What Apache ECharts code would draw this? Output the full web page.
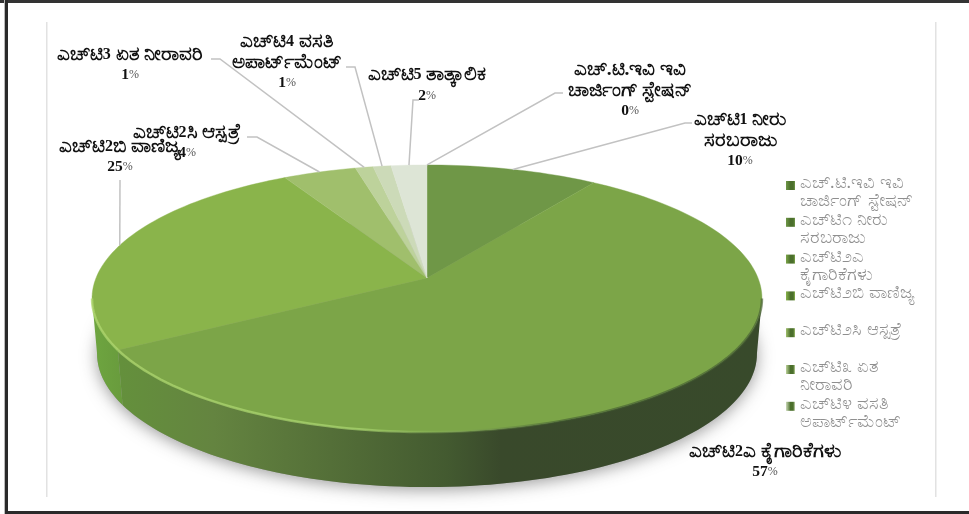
<!DOCTYPE html><html><head><meta charset="utf-8"></head><body style="margin:0;background:#fff">
<div id="m" style="width:969px;height:514px"></div>
<script src="https://cdn.jsdelivr.net/npm/echarts@6/dist/echarts.min.js"></script>
<script>
// ---- data ----
const labelNames = ['ಎಚ್.ಟಿ.ಇವಿ ಇವಿ\nಚಾರ್ಜಿಂಗ್ ಸ್ಟೇಷನ್','ಎಚ್‌ಟಿ1 ನೀರು\nಸರಬರಾಜು','ಎಚ್‌ಟಿ2ಎ ಕೈಗಾರಿಕೆಗಳು','ಎಚ್‌ಟಿ2ಬಿ ವಾಣಿಜ್ಯ','ಎಚ್‌ಟಿ2ಸಿ ಆಸ್ಪತ್ರೆ','ಎಚ್‌ಟಿ3 ಏತ ನೀರಾವರಿ','ಎಚ್‌ಟಿ4 ವಸತಿ\nಅಪಾರ್ಟ್‌ಮೆಂಟ್','ಎಚ್‌ಟಿ5 ತಾತ್ಕಾಲಿಕ'];
const legendNames = ['ಎಚ್.ಟಿ.ಇವಿ ಇವಿ\nಚಾರ್ಜಿಂಗ್ ಸ್ಟೇಷನ್','ಎಚ್‌ಟಿ೧ ನೀರು\nಸರಬರಾಜು','ಎಚ್‌ಟಿ೨ಎ\nಕೈಗಾರಿಕೆಗಳು','ಎಚ್‌ಟಿ೨ಬಿ ವಾಣಿಜ್ಯ','ಎಚ್‌ಟಿ೨ಸಿ ಆಸ್ಪತ್ರೆ','ಎಚ್‌ಟಿ೩ ಏತ\nನೀರಾವರಿ','ಎಚ್‌ಟಿ೪ ವಸತಿ\nಅಪಾರ್ಟ್‌ಮೆಂಟ್'];
const shares = [0, 9.6, 56.9, 25.4, 4.1, 1, 1, 2];

// ---- styles and layout ----
const topColors = ['#6f9647','#6f9747','#7ca548','#8ab44b','#a0bf6c','#bdd29b','#ccdab8','#dde5d6'];
const labelCenters = [[630,90.5],[740,140.5],[765,462],[120,157],[187,143],[130,65],[287,62.5],[427,85.5]];
const leaderBends = [[[555,93],[563,93]],[[685,123],[692,123]],null,[[120,180]],[[257,137],[247,137]],[[220,59],[211,59]],[[355,67],[346,67]],[[413,100],[419,100]]];
const CX=427, AY=278, K=0.1536, BY=130.4, CXS=331, DEPTH=55, BOTTOM_SCALE=0.985;
const SERIF='"Liberation Serif"';

function project(deg, down){
  const t=deg*Math.PI/180, u=Math.sin(t), v=Math.cos(t), w=1+K*v;
  const x=CXS*u/w, y=BY*v/w;
  return down ? [CX+x*BOTTOM_SCALE, AY-y+DEPTH] : [CX+x, AY-y];
}
function arc(a,b,down){
  const n=Math.max(2,Math.ceil(Math.abs(b-a)/1.5)), pts=[];
  for(let i=0;i<=n;i++) pts.push(project(a+(b-a)*i/n,down));
  return pts;
}
function hGrad(stops){return {type:'linear',x:93,y:0,x2:762,y2:0,global:true,colorStops:stops};}
const wallA=hGrad([[0,'#6ca03f'],[.04,'#64903c'],[.18,'#648440'],[.355,'#546f38'],[.53,'#435a30'],[.61,'#39492b'],[1,'#384a2b']].map(s=>({offset:s[0],color:s[1]})));
const wallB=hGrad([[0,'#6ea540'],[.04,'#699c3d'],[1,'#699c3d']].map(s=>({offset:s[0],color:s[1]})));
const rim=hGrad([[0,'rgba(175,215,110,.75)'],[.4,'rgba(175,220,115,.65)'],[.55,'rgba(130,170,85,.35)'],[.7,'rgba(60,85,45,.55)'],[1,'rgba(70,95,50,.65)']].map(s=>({offset:s[0],color:s[1]})));
const WALL_FROM=98.83, WALL_TO=261.17;
const total=shares.reduce((a,b)=>a+b,0);

function richLine(s){
  return s.split(/(\d+)/).filter(p=>p).map(p=>/^\d+$/.test(p)?'{d|'+p+'}':'{k|'+p+'}').join('');
}
function renderSlice(i){
  return function(params,api){
    const val=api.value(0);
    const before=shares.slice(0,i).reduce((a,b)=>a+b,0);
    const a=before/total*360, b=(before+val)/total*360, mid=(a+b)/2;
    const kids=[];
    if(i===0){
      kids.push({type:'polygon',z2:-1,shape:{points:arc(0,360,true)},style:{fill:'#999',shadowBlur:16,shadowColor:'rgba(60,60,60,.5)',shadowOffsetY:3}});
    }
    if(val>0){
      const wa=Math.max(a,WALL_FROM), wb=Math.min(b,WALL_TO);
      if(wb>wa){
        const pts=arc(wa,wb,false).concat(arc(wa,wb,true).reverse());
        kids.push({type:'polygon',z2:0,shape:{points:pts},style:{fill:i===2?wallA:wallB}});
      }
      kids.push({type:'polygon',z2:1,shape:{points:[[CX,AY]].concat(arc(a,b,false))},style:{fill:topColors[i],stroke:topColors[i],lineWidth:.4}});
      if(wb>wa) kids.push({type:'polyline',z2:2,shape:{points:arc(wa,wb,false)},style:{stroke:rim,lineWidth:2.5,fill:null}});
    }
    if(leaderBends[i]){
      kids.push({type:'polyline',z2:3,shape:{points:[project(mid,false)].concat(leaderBends[i])},style:{stroke:'#c2c2c2',lineWidth:1.5,fill:null}});
    }
    const c=labelCenters[i];
    kids.push({type:'text',z2:4,style:{x:c[0],y:c[1],align:'center',verticalAlign:'middle',
      text:labelNames[i].split('\n').map(richLine).join('\n')+'\n{n|'+Math.round(val)+'}{p|%}',
      rich:{k:{font:'bold 19.5px '+SERIF,fill:'#111',color:'#111',lineHeight:20.5},
            d:{font:'bold 16px '+SERIF,fill:'#111',color:'#111',lineHeight:20.5},
            n:{font:'bold 15.5px '+SERIF,fill:'#111',color:'#111',lineHeight:20.5},
            p:{font:'12px '+SERIF,fill:'#555',color:'#555',lineHeight:20.5}}}});
    return {type:'group',children:kids};
  };
}
function marker(c){return {type:'linear',x:0,y:0,x2:1,y2:0,colorStops:[{offset:0,color:c},{offset:.5,color:'#4b6f2c'},{offset:.8,color:'#4b6f2c'},{offset:1,color:c}]};}

const chart=echarts.init(document.getElementById('m'));
chart.setOption({
  animation:false,
  backgroundColor:'#fff',
  legend:{
    orient:'vertical',left:781,top:169,itemGap:0,itemWidth:9,itemHeight:36.8,selectedMode:false,
    icon:'path://M0 7H9V16H0Z M0 0L0 0 M0 36.8L0 36.8',
    data:legendNames.map((n,i)=>({name:n,itemStyle:{color:marker(topColors[i+ (i<1?1:0)])}})),
    formatter:n=>n.includes('\n')?n:n+'\n ',
    textStyle:{color:'#8f8f8f',fontFamily:SERIF,fontSize:18,lineHeight:18.4}
  },
  graphic:[
    {type:'rect',z:-1,shape:{x:0,y:0,width:969,height:3},style:{fill:'#333'}},
    {type:'rect',z:-1,shape:{x:5,y:0,width:3,height:514},style:{fill:'#2a2a2a'}},
    {type:'rect',z:-1,shape:{x:4,y:0,width:1,height:514},style:{fill:'#bbb'}},
    {type:'rect',z:-1,shape:{x:5,y:511,width:964,height:3},style:{fill:'#2a2a2a'}},
    {type:'rect',z:-1,shape:{x:46,y:22,width:1.5,height:475},style:{fill:'#e2e2e2'}},
    {type:'rect',z:-1,shape:{x:935,y:22,width:1.5,height:475},style:{fill:'#e2e2e2'}}
  ],
  series:shares.map((v,i)=>({
    type:'custom',coordinateSystem:'none',name:legendNames[i]||labelNames[i],
    data:[[v]],renderItem:renderSlice(i),itemStyle:{color:topColors[i]},silent:true
  }))
});
</script></body></html>
